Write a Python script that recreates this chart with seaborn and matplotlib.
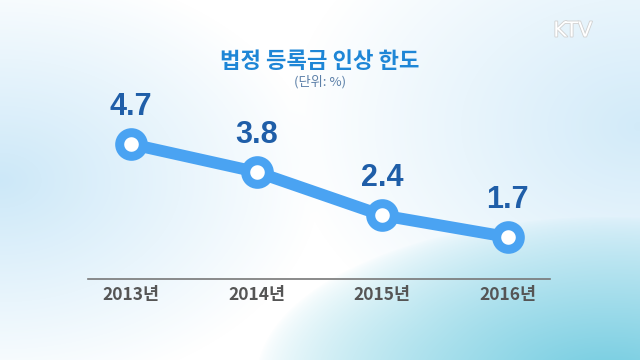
import numpy as np
import pandas as pd
import seaborn as sns
import matplotlib.pyplot as plt
import matplotlib.patheffects as pe

years = ['2013년', '2014년', '2015년', '2016년']
limits = [4.7, 3.8, 2.4, 1.7]
title = '법정 등록금 인상 한도'
unit = '(단위: %)'

df = pd.DataFrame({'year': years, 'limit': limits})

sns.set_style('white')
plt.rcParams['font.family'] = ['Noto Sans CJK KR', 'DejaVu Sans']

fig = plt.figure(figsize=(6.4, 3.6), dpi=100)

# soft blue broadcast-style backdrop
bg = fig.add_axes([0, 0, 1, 1], zorder=-1)
h, w = 360, 640
yy, xx = np.mgrid[0:h, 0:w] / np.array([h, w])[:, None, None]
white = np.array([1.0, 1.0, 1.0])
pale = np.array([0.78, 0.90, 0.97])
cyan = np.array([0.45, 0.80, 0.88])
t_left = np.clip(1 - np.hypot((xx - 0.0) / 0.5, (yy - 0.5) / 0.6), 0, 1)
t_right = np.clip(1 - np.hypot((xx - 1.0) / 0.55, (yy - 0.35) / 0.7), 0, 1)
t_cyan = np.clip(1 - np.hypot((xx - 0.95) / 0.55, (yy - 1.05) / 0.45), 0, 1)
img = np.ones((h, w, 3)) * white
img = img * (1 - t_left[..., None] * 0.9) + pale * t_left[..., None] * 0.9
img = img * (1 - t_right[..., None] * 0.8) + pale * t_right[..., None] * 0.8
img = img * (1 - t_cyan[..., None] ** 0.7) + cyan * t_cyan[..., None] ** 0.7
bg.imshow(img, aspect='auto', extent=[0, 1, 0, 1])
bg.set_axis_off()

ax = fig.add_axes([0.1375, 0.225, 0.7215, 0.497])
ax.patch.set_alpha(0)
sns.lineplot(data=df, x='year', y='limit', ax=ax, color='#4aa3f2',
             linewidth=8.5, marker='o', markersize=17,
             markerfacecolor='white', markeredgecolor='#4aa3f2',
             markeredgewidth=6.5, sort=False)

for i, v in enumerate(limits):
    ax.annotate(f'{v}', (i, v), xytext=(0, 16), textcoords='offset points',
                ha='center', va='bottom', fontsize=22, fontweight='bold',
                color='#1f5ea8', family=['Liberation Sans'])

ax.set_xlim(-0.342, 3.334)
ax.set_ylim(0.345, 6.12)
ax.set_xlabel('')
ax.set_ylabel('')
ax.set_yticks([])
for s in ['top', 'left', 'right']:
    ax.spines[s].set_visible(False)
ax.spines['bottom'].set_color('#777777')
ax.spines['bottom'].set_linewidth(1.2)
ax.tick_params(axis='x', length=0, pad=5, labelsize=12.5, labelcolor='#555555')
for lab in ax.get_xticklabels():
    lab.set_fontweight('bold')
ax.set_xticks([-0.342, 3.334], minor=True)
ax.tick_params(axis='x', which='minor', length=7, width=1.2,
               direction='inout', color='#777777')

fig.text(0.5, 0.828, title, ha='center', va='center', fontsize=16,
         fontweight='heavy', color='#1e86d6')
fig.text(0.5, 0.772, unit, ha='center', va='center', fontsize=9.5,
         color='#5b7fa8')
fig.text(0.895, 0.915, 'KTV', ha='center', va='center', fontsize=15,
         color='white', family=['DejaVu Sans'],
         path_effects=[pe.withStroke(linewidth=1.2, foreground='#d0d0d0')])

fig.savefig('out.png', dpi=100)
